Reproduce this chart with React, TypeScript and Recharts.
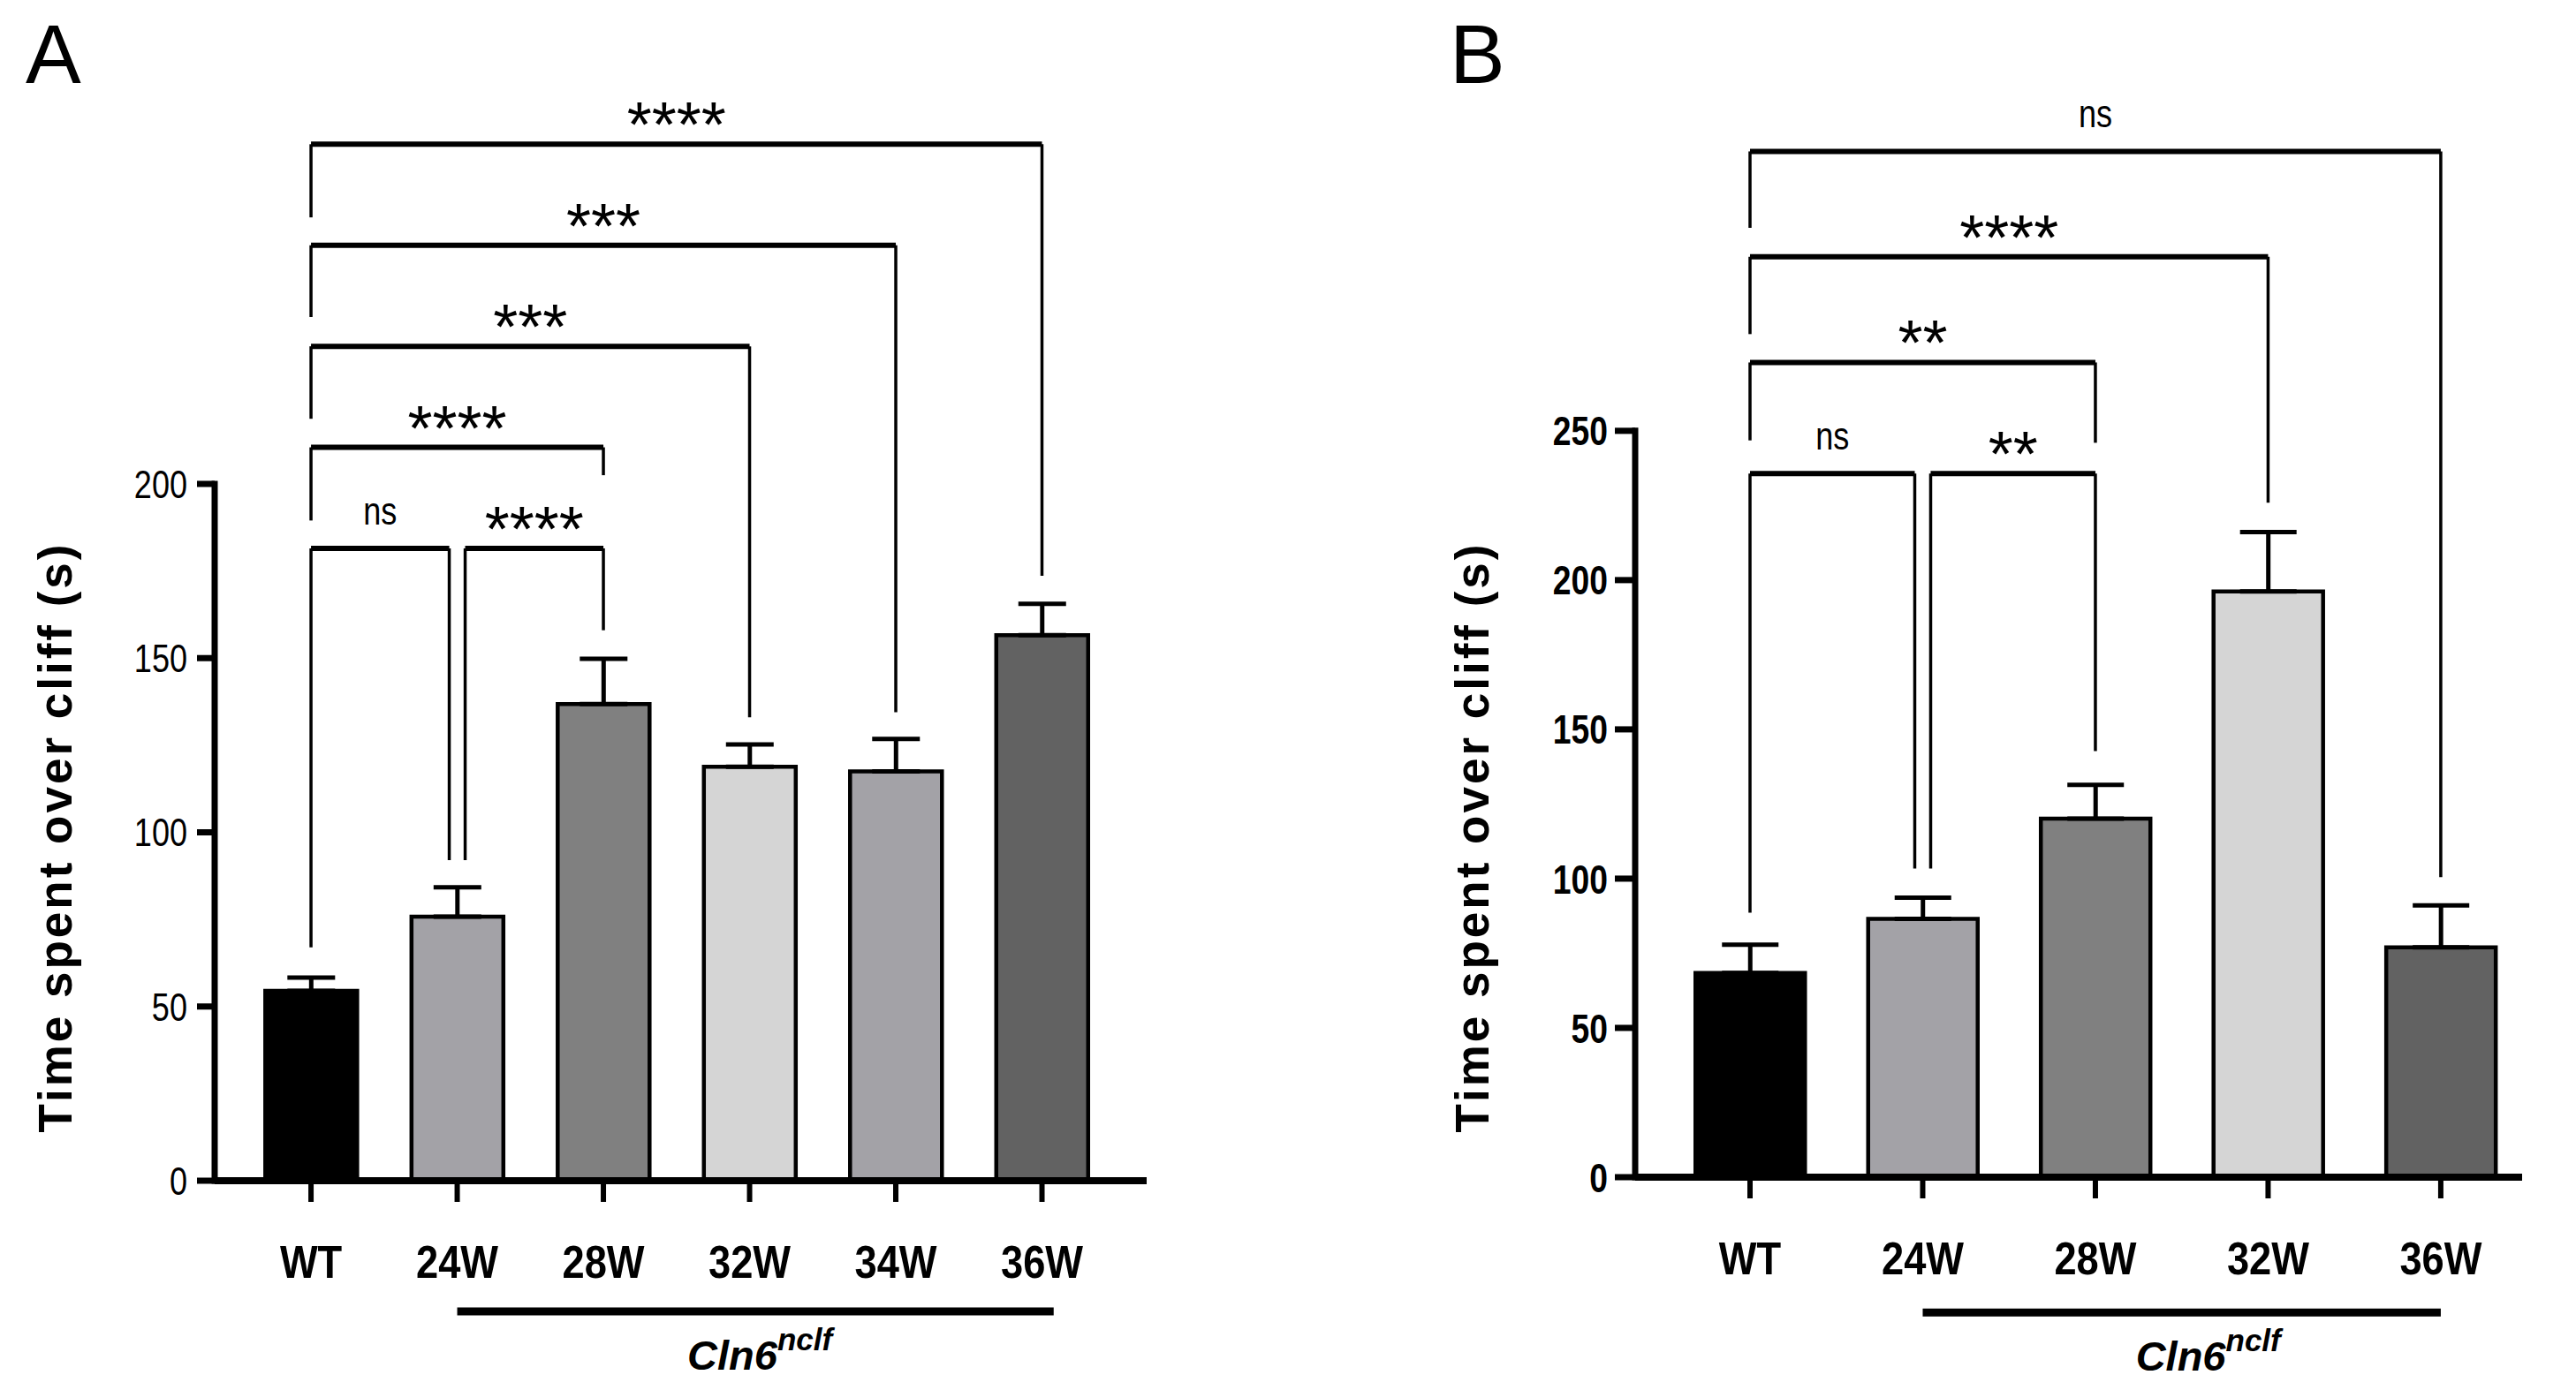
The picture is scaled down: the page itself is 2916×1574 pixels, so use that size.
import React from 'react';
import { BarChart, Bar, XAxis, YAxis, Cell, ErrorBar, ReferenceLine } from 'recharts';

const FONT = '"Liberation Sans", Arial, Helvetica, sans-serif';

// ---- Panel A data ----
const groupsA = ['WT', '24W', '28W', '32W', '34W', '36W'];
const meanA = [54.5, 75.8, 136.8, 118.8, 117.5, 156.6];
const semA = [3.8, 8.4, 13.0, 6.4, 9.3, 9.0];
const fillA = ['#000000', '#a3a2a7', '#808080', '#d5d5d5', '#a3a2a7', '#626262'];
const yTicksA = [0, 50, 100, 150, 200];
// comparison brackets: a/b = group index, y = bracket height, legA/legB = where each leg stops
const compsA = [
  { a: 0, b: 1, y: 181.5, label: 'ns', legA: 67, legB: 92, nudgeA: 0, nudgeB: -1 },
  { a: 1, b: 2, y: 181.5, label: '****', legA: 92, legB: 158, nudgeA: 1, nudgeB: 0 },
  { a: 0, b: 2, y: 210.5, label: '****', legA: 189.5, legB: 202.5, nudgeA: 0, nudgeB: 0 },
  { a: 0, b: 3, y: 239.5, label: '***', legA: 218.7, legB: 133, nudgeA: 0, nudgeB: 0 },
  { a: 0, b: 4, y: 268.5, label: '***', legA: 247.9, legB: 134.5, nudgeA: 0, nudgeB: 0 },
  { a: 0, b: 5, y: 297.5, label: '****', legA: 276.5, legB: 173.6, nudgeA: 0, nudgeB: 0 },
];

// ---- Panel B data ----
const groupsB = ['WT', '24W', '28W', '32W', '36W'];
const meanB = [68.4, 86.5, 120.1, 196.2, 77.0];
const semB = [9.5, 7.1, 11.3, 19.9, 14.0];
const fillB = ['#000000', '#a3a2a7', '#808080', '#d5d5d5', '#626262'];
const yTicksB = [0, 50, 100, 150, 200, 250];
const compsB = [
  { a: 0, b: 1, y: 235.7, label: 'ns', legA: 88.6, legB: 103.4, nudgeA: 0, nudgeB: -1 },
  { a: 1, b: 2, y: 235.7, label: '**', legA: 103.4, legB: 142.7, nudgeA: 1, nudgeB: 0 },
  { a: 0, b: 2, y: 272.9, label: '**', legA: 246.8, legB: 246, nudgeA: 0, nudgeB: 0 },
  { a: 0, b: 3, y: 308.3, label: '****', legA: 282.4, legB: 225.9, nudgeA: 0, nudgeB: 0 },
  { a: 0, b: 4, y: 343.6, label: 'ns', legA: 318, legB: 100.5, nudgeA: 0, nudgeB: 0 },
];

const SigText = (props: any) => {
  const { viewBox, text } = props;
  if (!viewBox) return null;
  const cx = viewBox.x + viewBox.width / 2;
  if (/^\*+$/.test(text)) {
    return (
      <text x={cx} y={viewBox.y + 3} textAnchor="middle" fontFamily={FONT} fontSize={72} fill="#000">
        {text}
      </text>
    );
  }
  return (
    <g transform={`translate(${cx},${viewBox.y - 27})`}>
      <text textAnchor="middle" transform="scale(0.82,1)" fontFamily={FONT} fontSize={44} fill="#000">
        {text}
      </text>
    </g>
  );
};

const GroupText = (props: any) => {
  const { viewBox, dx } = props;
  if (!viewBox) return null;
  const cx = viewBox.x + viewBox.width / 2 + dx;
  return (
    <text x={cx} y={viewBox.y + 66} textAnchor="middle" fontFamily={FONT} fontWeight={700} fontStyle="italic" fill="#000">
      <tspan fontSize={47}>Cln6</tspan>
      <tspan fontSize={35} dy={-22}>nclf</tspan>
    </text>
  );
};

const YTick = (props: any) => {
  const { x, y, payload, bold } = props;
  return (
    <g transform={`translate(${x},${y})`}>
      <text
        transform={`scale(${bold ? 0.81 : 0.82},1)`}
        textAnchor="end"
        dy="0.36em"
        fontSize={bold ? 46 : 44}
        fontWeight={bold ? 700 : 400}
        fontFamily={FONT}
        fill="#000"
      >
        {payload.value}
      </text>
    </g>
  );
};

const XTick = (props: any) => {
  const { x, y, payload, names } = props;
  return (
    <g transform={`translate(${x},${y})`}>
      <text transform="scale(0.87,1)" textAnchor="middle" y={86} fontSize={52} fontWeight={700} fontFamily={FONT} fill="#000">
        {names[payload.value]}
      </text>
    </g>
  );
};

function Panel(props: any) {
  const { groups, mean, sem, fill, yTicks, comps, cfg } = props;
  const data = groups.map((g: string, i: number) => ({ i, name: g, v: mean[i], e: [0, sem[i]] }));
  const plotW = cfg.width - cfg.margin.left - cfg.margin.right - 120;
  const unit = plotW / (cfg.xDomain[1] - cfg.xDomain[0]);
  const nud = 9 / unit;
  const yTop = yTicks[yTicks.length - 1];

  return (
    <div style={{ position: 'absolute', left: cfg.left, top: 0 }}>
      <BarChart width={cfg.width} height={1574} data={data} margin={cfg.margin}>
        <XAxis
          type="number"
          dataKey="i"
          domain={cfg.xDomain}
          allowDataOverflow
          ticks={groups.map((_: string, i: number) => i)}
          interval={0}
          height={60}
          axisLine={{ stroke: '#000', strokeWidth: 8 }}
          tickLine={{ stroke: '#000', strokeWidth: 6 }}
          tickSize={24}
          tickMargin={0}
          tick={<XTick names={groups} />}
        />
        <YAxis
          type="number"
          domain={[0, cfg.yMax]}
          allowDataOverflow
          ticks={yTicks}
          interval={0}
          width={120}
          axisLine={false}
          tickLine={{ stroke: '#000', strokeWidth: 7 }}
          tickSize={cfg.tickSize}
          tickMargin={cfg.tickMargin}
          tick={<YTick bold={cfg.boldY} />}
        />
        <ReferenceLine
          segment={[{ x: cfg.xDomain[0], y: 0 }, { x: cfg.xDomain[0], y: yTop }]}
          stroke="#000"
          strokeWidth={7}
          strokeLinecap="square"
        />
        <Bar dataKey="v" barSize={cfg.barSize} stroke="#000" strokeWidth={4.5} isAnimationActive={false}>
          {data.map((d: any, i: number) => (
            <Cell key={d.name} fill={fill[i]} />
          ))}
          <ErrorBar dataKey="e" direction="y" width={cfg.cap} stroke="#000" strokeWidth={5} isAnimationActive={false} />
        </Bar>
        {comps.map((c: any, k: number) => {
          const xa = c.a + c.nudgeA * nud;
          const xb = c.b + c.nudgeB * nud;
          return [
            <ReferenceLine
              key={`h${k}`}
              segment={[{ x: xa, y: c.y }, { x: xb, y: c.y }]}
              stroke="#000"
              strokeWidth={6}
              ifOverflow="visible"
              label={<SigText text={c.label} />}
            />,
            <ReferenceLine key={`l${k}`} segment={[{ x: xa, y: c.y }, { x: xa, y: c.legA }]} stroke="#000" strokeWidth={3.5} ifOverflow="visible" />,
            <ReferenceLine key={`r${k}`} segment={[{ x: xb, y: c.y }, { x: xb, y: c.legB }]} stroke="#000" strokeWidth={3.5} ifOverflow="visible" />,
          ];
        })}
        <ReferenceLine
          segment={[{ x: 1, y: cfg.underY }, { x: cfg.underEnd, y: cfg.underY }]}
          stroke="#000"
          strokeWidth={9}
          ifOverflow="visible"
          label={<GroupText dx={cfg.textDx} />}
        />
      </BarChart>
    </div>
  );
}

const cfgA = {
  left: 0,
  width: 1458,
  margin: { top: 114, right: 160, bottom: 177, left: 123 },
  xDomain: [-0.659, 5.716],
  yMax: 310,
  tickSize: 20,
  tickMargin: 11,
  boldY: false,
  barSize: 104,
  cap: 27,
  underY: -37.5,
  underEnd: 5.08,
  textDx: 5,
};

const cfgB = {
  left: 1458,
  width: 1458,
  margin: { top: 116, right: 61, bottom: 181, left: 273 },
  xDomain: [-0.665, 4.471],
  yMax: 360,
  tickSize: 23,
  tickMargin: 8,
  boldY: true,
  barSize: 124,
  cap: 32,
  underY: -45.3,
  underEnd: 4,
  textDx: 30,
};

export default function App() {
  return (
    <div style={{ position: 'absolute', left: 0, top: 0, width: 2916, height: 1574, background: '#fff' }}>
      <Panel groups={groupsA} mean={meanA} sem={semA} fill={fillA} yTicks={yTicksA} comps={compsA} cfg={cfgA} />
      <Panel groups={groupsB} mean={meanB} sem={semB} fill={fillB} yTicks={yTicksB} comps={compsB} cfg={cfgB} />
      <svg width={2916} height={1574} style={{ position: 'absolute', left: 0, top: 0, pointerEvents: 'none' }}>
        <text x={29} y={94} fontFamily={FONT} fontSize={94} fill="#000">A</text>
        <text x={1641} y={94} fontFamily={FONT} fontSize={94} fill="#000">B</text>
        {[62, 1666].map((cx) => (
          <text
            key={cx}
            transform={`translate(${cx},948) rotate(-90)`}
            textAnchor="middle"
            dy="0.35em"
            fontFamily={FONT}
            fontWeight={700}
            fontSize={53}
            letterSpacing={3}
            fill="#000"
          >
            Time spent over cliff (s)
          </text>
        ))}
      </svg>
    </div>
  );
}
